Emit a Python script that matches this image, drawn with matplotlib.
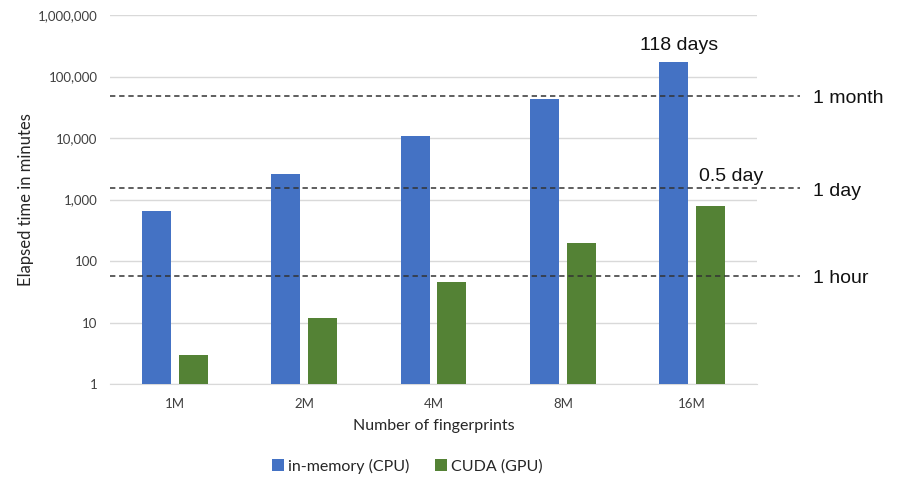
import matplotlib
matplotlib.use("Agg")
import matplotlib.pyplot as plt
import numpy as np

# data (minutes)
categories = ["1M", "2M", "4M", "8M", "16M"]
cpu_minutes = [665, 2630, 10800, 43000, 172000]
gpu_minutes = [2.95, 11.8, 45.5, 199, 800]
ref_minutes = [49000, 1530, 58]
ref_labels = ["1 month", "1 day", "1 hour"]
yticks = [1, 10, 100, 1000, 10000, 100000, 1000000]

BLUE = "#4472C4"
GREEN = "#548235"
TICK_FONT = "Lato"
NOTE_FONT = "Liberation Sans"

fig = plt.figure(figsize=(9, 5), dpi=100)
ax = fig.add_axes([0.1222, 0.2314, 0.7189, 0.7386])

x = np.arange(len(categories))
w = 0.224
ax.bar(x - 0.142, cpu_minutes, w, color=BLUE, label="in-memory (CPU)", zorder=3)
ax.bar(x + 0.142, gpu_minutes, w, color=GREEN, label="CUDA (GPU)", zorder=3)

ax.set_yscale("log")
ax.set_ylim(1, 1000000)
ax.set_xlim(-0.5, len(categories) - 0.5)
ax.set_yticks(yticks)
ax.set_yticklabels([f"{v:,}" for v in yticks], fontfamily=TICK_FONT, fontsize=9.5, color="#404040")
ax.minorticks_off()
ax.set_xticks(x)
ax.set_xticklabels(categories, fontfamily=TICK_FONT, fontsize=9.5, color="#404040")
ax.tick_params(length=0, pad=10)
ax.tick_params(axis="y", pad=9)
ax.grid(True, axis="y", color="#D9D9D9", linewidth=1, zorder=0)
for s in ["top", "right", "left"]:
    ax.spines[s].set_visible(False)
ax.spines["bottom"].set_color("#D9D9D9")

ax.set_ylabel("Elapsed time in minutes", fontfamily=TICK_FONT, fontsize=12, color="#262626")
ax.yaxis.set_label_coords(-0.117, 0.5)
ax.set_xlabel("Number of fingerprints", fontfamily=TICK_FONT, fontsize=11.5, color="#262626", labelpad=6)

# reference lines running past the plot area
for val, lab in zip(ref_minutes, ref_labels):
    ax.plot([-0.5, 4.83], [val, val], ls=(0, (3.5, 2.5)), color="#333333", lw=1.1,
            clip_on=False, zorder=4)
    ax.annotate(lab, (4.93, val), xytext=(0, -2), textcoords="offset points",
                annotation_clip=False, fontfamily=NOTE_FONT, fontsize=14,
                va="center", ha="left", color="#111111")

ax.annotate("118 days", (x[-1] - 0.142, cpu_minutes[-1]), xytext=(4, 6),
            textcoords="offset points", ha="center", va="bottom",
            fontfamily=NOTE_FONT, fontsize=14, color="#111111")
ax.annotate("0.5 day", (x[-1] + 0.142, gpu_minutes[-1]), xytext=(15, 15),
            textcoords="offset points", ha="center", va="bottom",
            fontfamily=NOTE_FONT, fontsize=14, color="#111111")

fig.legend(loc="center", bbox_to_anchor=(0.453, 0.068), ncol=2, frameon=False,
           prop={"family": TICK_FONT, "size": 11.5}, handlelength=0.7, handleheight=0.7,
           handletextpad=0.3, columnspacing=1.6, labelcolor="#262626")

fig.savefig("out.png", dpi=100)
